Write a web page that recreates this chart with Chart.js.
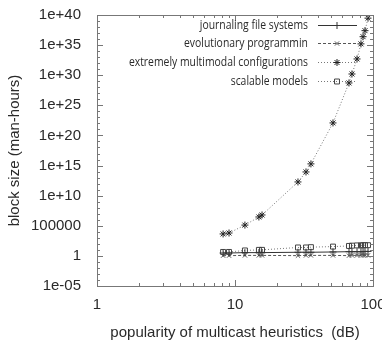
<!DOCTYPE html>
<html>
<head>
<meta charset="utf-8">
<script src="https://cdn.jsdelivr.net/npm/chart.js@4.4.1/dist/chart.umd.min.js"></script>
<style>
html,body{margin:0;padding:0;background:#fff}
</style>
</head>
<body>
<canvas id="chart" width="382" height="342"></canvas>
<script>
// data
const xVals=[8.2,9.05,11.8,14.9,15.7,28.6,32.7,35.5,51.3,67,70.4,76.6,81.8,84.7,87.5,92];
const journaling=[3,3,3.5,3.5,3.5,4,4,4,4.5,5,5,5,5,5,5.5,5.5];
const evolutionary=[1.1,1.1,1.2,1.2,1.2,1.1,1.2,1.2,1.2,1.1,1.2,1.2,1.2,1.2,1.2,1.2];
const multimodal=[4.4e3,6.3e3,1.3e5,2.9e6,6.2e6,1.9e12,8.7e13,1.9e15,1.2e22,5.2e28,1.6e30,5e32,1.6e35,2.5e36,2.5e37,3e39];
const scalable=[4.5,4.5,8,10,10,25,25,28,35,45,50,55,55,60,60,60];
const seriesNames=["journaling file systems","evolutionary programmin","extremely multimodal configurations","scalable models"];
const xTickVals=[1,10,100];
const xTickLabels=["1","10","100"];
const yTickVals=[1e-5,1,1e5,1e10,1e15,1e20,1e25,1e30,1e35,1e40];
const yTickLabels=["1e-05","1","100000","1e+10","1e+15","1e+20","1e+25","1e+30","1e+35","1e+40"];

function pts(arr){
return xVals.map((x,i)=>({x:x,y:arr[i]}));
}

const ink="#2a2a2a";
const fam="'Liberation Sans',Arial,sans-serif";

// box, inward ticks and minor ticks like gnuplot
const frame={
id:"frame",
afterDatasetsDraw(chart){
const ctx=chart.ctx;
const a=chart.chartArea;
const xs=chart.scales.x, ys=chart.scales.y;
ctx.save();
ctx.strokeStyle="#777";
ctx.lineWidth=1;
ctx.strokeRect(a.left+0.5,a.top+0.5,a.right-a.left,a.bottom-a.top);
ctx.beginPath();
// y ticks every decade, major every 5
for(let e=-5;e<=40;e++){
const y=Math.round(ys.getPixelForValue(Math.pow(10,e)))+0.5;
const len=(e%5===0)?6:3;
ctx.moveTo(a.left,y);ctx.lineTo(a.left+len,y);
ctx.moveTo(a.right,y);ctx.lineTo(a.right-len,y);
}
// x ticks
for(let d=1;d<=10;d*=10){
for(let m=1;m<=9;m++){
const v=d*m;
if(v>100)break;
const x=Math.round(xs.getPixelForValue(v))+0.5;
const len=(m===1)?6:3;
ctx.moveTo(x,a.bottom);ctx.lineTo(x,a.bottom-len);
ctx.moveTo(x,a.top);ctx.lineTo(x,a.top+len);
}
}
ctx.stroke();

// legend inside the plot, narrow text
const rows=[25,43,62,81];
ctx.font="13px 'Open Sans',sans-serif";
ctx.textAlign="right";
ctx.textBaseline="middle";
chart.data.datasets.forEach((ds,i)=>{
const y=rows[i];
ctx.fillStyle=ink;
const w=ctx.measureText(ds.label).width;
ctx.fillText(ds.label,308,y,w*0.8);
ctx.beginPath();
ctx.setLineDash(ds.borderDash||[]);
ctx.strokeStyle=ds.borderColor;
ctx.lineWidth=1;
ctx.moveTo(318,y+0.5);ctx.lineTo(357,y+0.5);
ctx.stroke();
ctx.setLineDash([]);
ctx.strokeStyle=ds.pointBorderColor;
ctx.fillStyle=ds.pointBackgroundColor;
Chart.helpers.drawPoint(ctx,{pointStyle:ds.pointStyle,radius:ds.pointRadius,borderWidth:1,rotation:0},337,y+0.5);
});
ctx.restore();
}
};

const ctx=document.getElementById("chart").getContext("2d");

new Chart(ctx,{
type:"scatter",
data:{
datasets:[
{
label:seriesNames[0],
data:pts(journaling),
showLine:true,
borderColor:"#333",
borderWidth:1,
pointStyle:"cross",
pointRadius:3.5,
pointBorderColor:"#333",
pointBackgroundColor:"#333"
},
{
label:seriesNames[1],
data:pts(evolutionary),
showLine:true,
borderColor:"#555",
borderWidth:1,
borderDash:[3,2],
pointStyle:"crossRot",
pointRadius:3,
pointBorderColor:"#555",
pointBackgroundColor:"#555"
},
{
label:seriesNames[2],
data:pts(multimodal),
showLine:true,
borderColor:"#777",
borderWidth:1,
borderDash:[1,2],
pointStyle:"star",
pointRadius:3.5,
pointBorderColor:"#222",
pointBackgroundColor:"#222"
},
{
label:seriesNames[3],
data:pts(scalable),
showLine:true,
borderColor:"#777",
borderWidth:1,
borderDash:[1,2],
pointStyle:"rect",
pointRadius:3.5,
pointBorderColor:"#444",
pointBackgroundColor:"rgba(0,0,0,0)"
}
]
},
plugins:[frame],
options:{
responsive:false,
animation:false,
devicePixelRatio:1,
layout:{autoPadding:false,padding:{left:4,right:9,top:15,bottom:0}},
plugins:{legend:{display:false},tooltip:{enabled:false}},
scales:{
x:{
type:"logarithmic",
min:1,max:100,
grid:{display:false},
border:{display:false},
afterBuildTicks:s=>{s.ticks=xTickVals.map(v=>({value:v}));},
afterFit:s=>{s.height=56;s.paddingLeft=0;s.paddingRight=0;},
ticks:{
color:ink,
font:{family:fam,size:15},
padding:2,
maxRotation:0,
callback:(v,i)=>xTickLabels[i]
},
title:{
display:true,
text:"popularity of multicast heuristics  (dB)",
color:ink,
font:{family:fam,size:15},
padding:{top:2,bottom:0}
}
},
y:{
type:"logarithmic",
min:1e-5,max:1e40,
grid:{display:false},
border:{display:false},
afterBuildTicks:s=>{s.ticks=yTickVals.map(v=>({value:v}));},
afterFit:s=>{s.width=93;s.paddingTop=0;s.paddingBottom=0;},
ticks:{
color:ink,
font:{family:fam,size:15},
padding:8,
callback:(v,i)=>yTickLabels[i]
},
title:{
display:true,
text:"block size (man-hours)",
color:ink,
font:{family:fam,size:15},
padding:{top:2,bottom:0}
}
}
}
}
});
</script>
</body>
</html>
